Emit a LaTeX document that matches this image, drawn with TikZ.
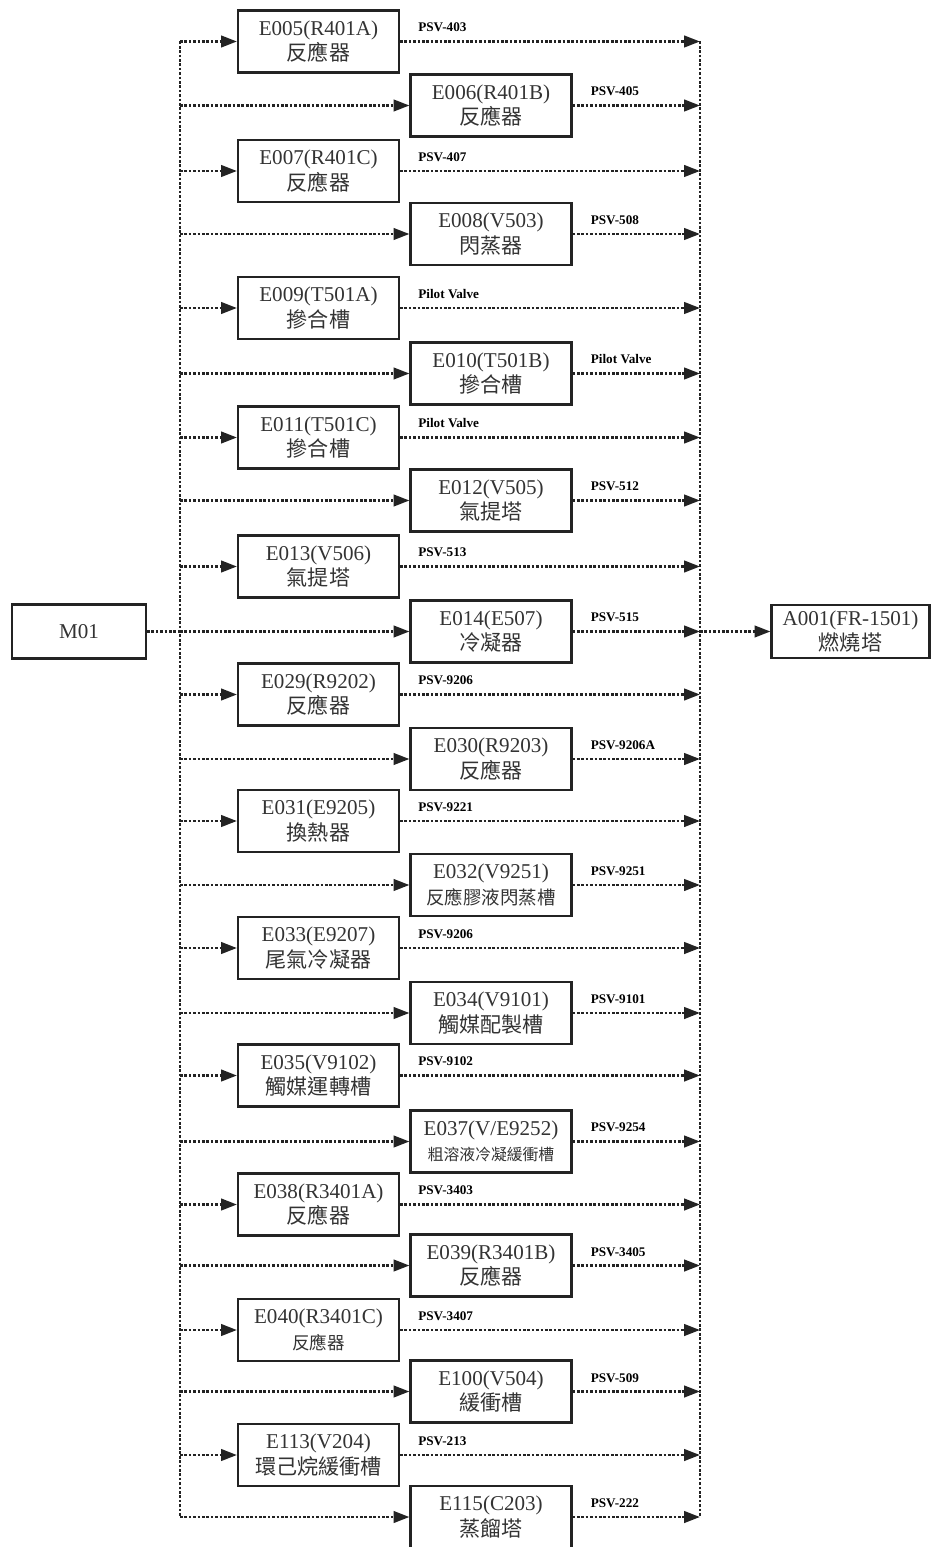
\documentclass[tikz,border=0pt]{standalone}
\usepackage{fontspec}
\setmainfont{Liberation Serif}
\newfontfamily\cjk{Noto Sans CJK TC}
\usetikzlibrary{arrows.meta}

\definecolor{line_gray}{RGB}{35,35,35}

\begin{document}
\begin{tikzpicture}[
    x=0.02cm, y=-0.02cm,
    unit/.style={rectangle, draw=line_gray, line width=1.2pt, fill=white,
                 minimum width=3.22cm, minimum height=1.24cm, align=center,
                 inner sep=1pt, font=\fontsize{12}{14.5}\selectfont, text=black!80},
    flow/.style={densely dotted, line width=1.5pt, line_gray,
                 -{Triangle[length=9pt,width=6.5pt]}},
    bus/.style={densely dotted, line width=1.5pt, line_gray},
    psv/.style={anchor=south west, inner sep=0pt, xshift=0.34cm, yshift=0.16cm,
                font=\fontsize{7.5}{8}\selectfont\bfseries, text=black}
]
    \useasboundingbox (0,0) rectangle (930,1547);

    % Bus lines
    \coordinate (lbus) at (180,0);
    \coordinate (rbus) at (700,0);

    % Source and flare
    \node[unit, minimum width=2.68cm, minimum height=1.08cm] (m01) at (79,631.5) {M01};
    \node[unit, minimum width=3.16cm, minimum height=1.06cm] (a001) at (850.5,631.5)
        {A001(FR-1501)\\\cjk 燃燒塔};

    % Equipment, left column
    \node[unit] (e005) at (318.5,  41.5) {E005(R401A)\\\cjk 反應器};
    \node[unit] (e007) at (318.5, 171)   {E007(R401C)\\\cjk 反應器};
    \node[unit] (e009) at (318.5, 308)   {E009(T501A)\\\cjk 摻合槽};
    \node[unit] (e011) at (318.5, 437.5) {E011(T501C)\\\cjk 摻合槽};
    \node[unit] (e013) at (318.5, 566.5) {E013(V506)\\\cjk 氣提塔};
    \node[unit] (e029) at (318.5, 694.5) {E029(R9202)\\\cjk 反應器};
    \node[unit] (e031) at (318.5, 821)   {E031(E9205)\\\cjk 換熱器};
    \node[unit] (e033) at (318.5, 948)   {E033(E9207)\\\cjk 尾氣冷凝器};
    \node[unit] (e035) at (318.5,1075.5) {E035(V9102)\\\cjk 觸媒運轉槽};
    \node[unit] (e038) at (318.5,1204.5) {E038(R3401A)\\\cjk 反應器};
    \node[unit] (e040) at (318.5,1330)   {E040(R3401C)\\\cjk\fontsize{10}{12}\selectfont 反應器};
    \node[unit] (e113) at (318.5,1455)   {E113(V204)\\\cjk 環己烷緩衝槽};

    % Equipment, right column
    \node[unit] (e006) at (491, 105.5) {E006(R401B)\\\cjk 反應器};
    \node[unit] (e008) at (491, 234)   {E008(V503)\\\cjk 閃蒸器};
    \node[unit] (e010) at (491, 373.5) {E010(T501B)\\\cjk 摻合槽};
    \node[unit] (e012) at (491, 500.5) {E012(V505)\\\cjk 氣提塔};
    \node[unit] (e014) at (491, 631.5) {E014(E507)\\\cjk 冷凝器};
    \node[unit] (e030) at (491, 759)   {E030(R9203)\\\cjk 反應器};
    \node[unit] (e032) at (491, 885)   {E032(V9251)\\\cjk\fontsize{10.5}{12}\selectfont 反應膠液閃蒸槽};
    \node[unit] (e034) at (491,1013)   {E034(V9101)\\\cjk 觸媒配製槽};
    \node[unit] (e037) at (491,1141.5) {E037(V/E9252)\\\cjk\fontsize{9}{11}\selectfont 粗溶液冷凝緩衝槽};
    \node[unit] (e039) at (491,1265.5) {E039(R3401B)\\\cjk 反應器};
    \node[unit] (e100) at (491,1391.5) {E100(V504)\\\cjk 緩衝槽};
    \node[unit] (e115) at (491,1517)   {E115(C203)\\\cjk 蒸餾塔};

    % Buses
    \draw[bus] (e005.west -| lbus) -- (e115.west -| lbus);
    \draw[bus] (e005.east -| rbus) -- (e115.east -| rbus);

    % M01 -> left bus, right bus -> A001
    \draw[bus] (m01.east) -- (e014.west -| lbus);
    \draw[flow] (e014.east -| rbus) -- (a001.west);

    % Branches with relief valves
    \foreach \b/\v in {e005/PSV-403, e006/PSV-405, e007/PSV-407, e008/PSV-508,
                       e009/Pilot Valve, e010/Pilot Valve, e011/Pilot Valve,
                       e012/PSV-512, e013/PSV-513, e014/PSV-515, e029/PSV-9206,
                       e030/PSV-9206A, e031/PSV-9221, e032/PSV-9251, e033/PSV-9206,
                       e034/PSV-9101, e035/PSV-9102, e037/PSV-9254, e038/PSV-3403,
                       e039/PSV-3405, e040/PSV-3407, e100/PSV-509, e113/PSV-213,
                       e115/PSV-222} {
        \draw[flow] (\b.west -| lbus) -- (\b.west);
        \draw[flow] (\b.east) -- (\b.east -| rbus)
            node[psv, pos=0] {\v};
    }

\end{tikzpicture}
\end{document}
